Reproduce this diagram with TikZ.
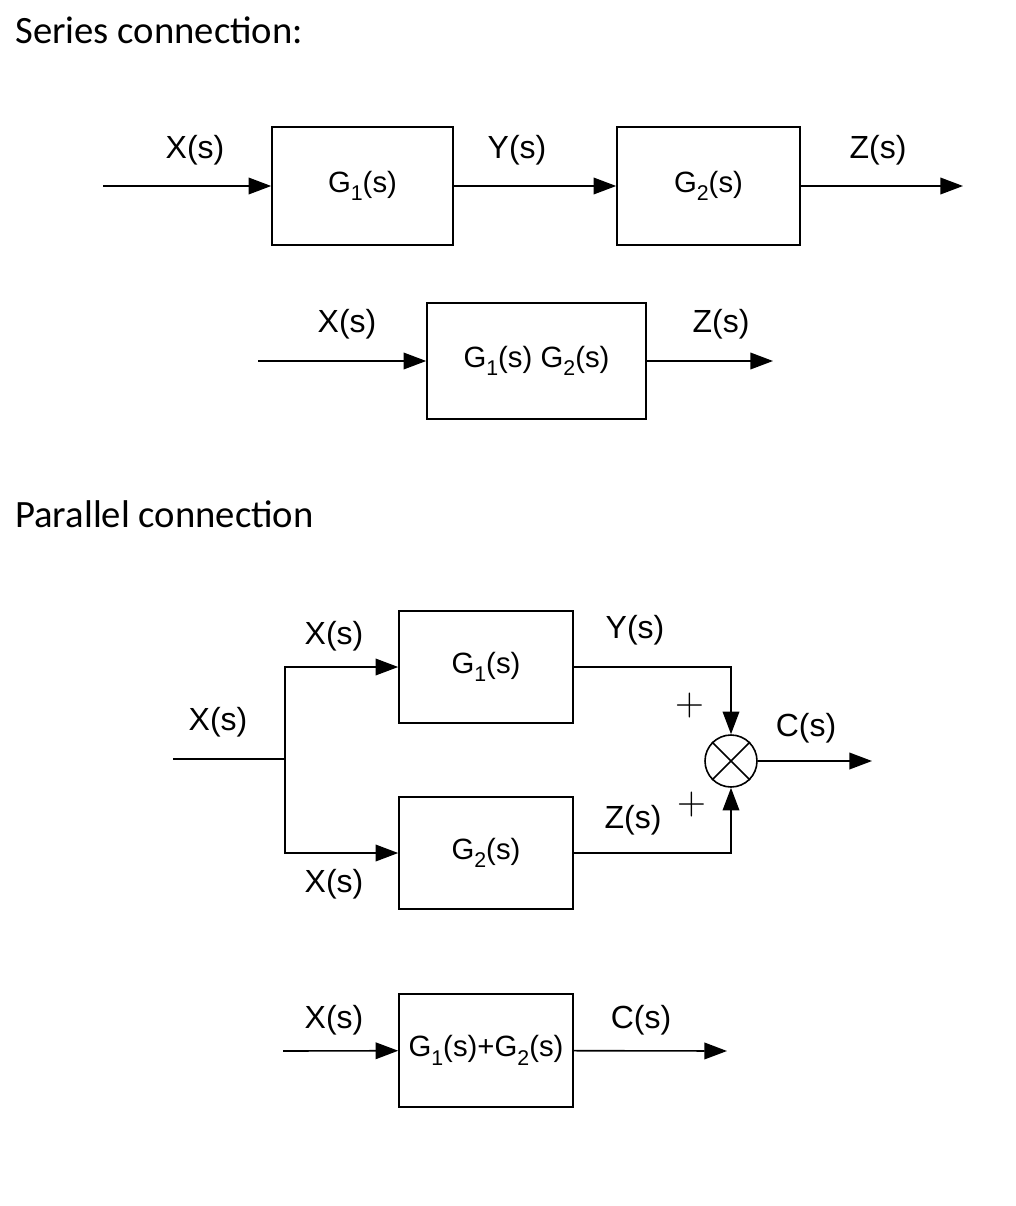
\documentclass[tikz,border=0pt]{standalone}
\usepackage{fontspec}
\setmainfont{Liberation Sans}
\newfontfamily\headfont{Carlito}
\newfontfamily\plusfont{Latin Modern Roman}
\usetikzlibrary{arrows.meta}
\newcommand{\idx}[1]{\raisebox{-0.55ex}{\fontsize{16}{16}\selectfont #1}}

\begin{document}
\begin{tikzpicture}[x=0.75pt, y=-0.75pt,
    block/.style={draw, line width=1.2pt, inner sep=0pt, font=\fontsize{22}{27}\selectfont},
    sig/.style={line width=1.2pt, -{Triangle[length=17pt,width=12.5pt]}},
    wire/.style={line width=1.2pt},
    lbl/.style={font=\fontsize{24}{27}\selectfont},
    sgn/.style={font=\plusfont\fontsize{30}{32}\selectfont},
    head/.style={anchor=west, inner sep=0pt, font=\headfont\fontsize{29}{33}\selectfont}]
    \useasboundingbox (0,0) rectangle (1016,1206);

    % series connection
    \node[head] (hser) at (15,30) {Series connection:};
    \node[block, minimum width=135.75pt, minimum height=88.5pt] (g1s) at (362.5,186) {G\idx{1}(s)};
    \node[block, minimum width=137.25pt, minimum height=88.5pt] (g2s) at (708.5,186) {G\idx{2}(s)};
    \coordinate (sx) at (103,186);
    \coordinate (sz) at (963,186);
    \draw[sig] (sx) -- (g1s);
    \draw[sig] (g1s) -- (g2s);
    \draw[sig] (g2s) -- (sz);
    \node[lbl] at (195,150) {X(s)};
    \node[lbl] at (517,150) {Y(s)};
    \node[lbl] at (878,150) {Z(s)};

    \node[block, minimum width=164.25pt, minimum height=87pt] (gprod) at (536.5,361) {G\idx{1}(s) G\idx{2}(s)};
    \coordinate (px2) at (258,361);
    \coordinate (pz2) at (773,361);
    \draw[sig] (px2) -- (gprod);
    \draw[sig] (gprod) -- (pz2);
    \node[lbl] at (347,324) {X(s)};
    \node[lbl] at (721,324) {Z(s)};

    % parallel connection
    \node[head] (hpar) at (15,514) {Parallel connection};
    \node[block, minimum width=130.5pt, minimum height=84pt] (g1p) at (486,667) {G\idx{1}(s)};
    \node[block, minimum width=130.5pt, minimum height=84pt] (g2p) at (486,853) {G\idx{2}(s)};
    \node[circle, draw, line width=1.2pt, minimum size=39pt, inner sep=0pt] (sum) at (731,761) {};
    \draw[wire] (sum.45) -- (sum.225) (sum.135) -- (sum.315);
    \coordinate (pin) at (173,759);
    \coordinate (split) at (285,759);
    \coordinate (pout) at (872,761);
    \draw[wire] (pin) -- (split);
    \draw[sig] (split) |- (g1p.west);
    \draw[sig] (split) |- (g2p.west);
    \draw[sig] (g1p.east) -| (sum.north);
    \draw[sig] (g2p.east) -| (sum.south);
    \draw[sig] (sum.east) -- (pout);
    \node[lbl] at (218,722) {X(s)};
    \node[lbl] at (334,636) {X(s)};
    \node[lbl] at (334,884) {X(s)};
    \node[lbl] at (635,630) {Y(s)};
    \node[lbl] at (633,820) {Z(s)};
    \node[lbl] at (806,728) {C(s)};
    \node[sgn] at (690,706) {+};
    \node[sgn] at (692,805) {+};

    \node[block, minimum width=130.5pt, minimum height=84.75pt] (gsum) at (486,1050.5) {G\idx{1}(s)+G\idx{2}(s)};
    \coordinate (qx) at (283,1051);
    \coordinate (qc) at (727,1051);
    \draw[sig] (qx) -- (gsum);
    \draw[sig] (gsum) -- (qc);
    \node[lbl] at (334,1020) {X(s)};
    \node[lbl] at (641,1020) {C(s)};
\end{tikzpicture}
\end{document}
